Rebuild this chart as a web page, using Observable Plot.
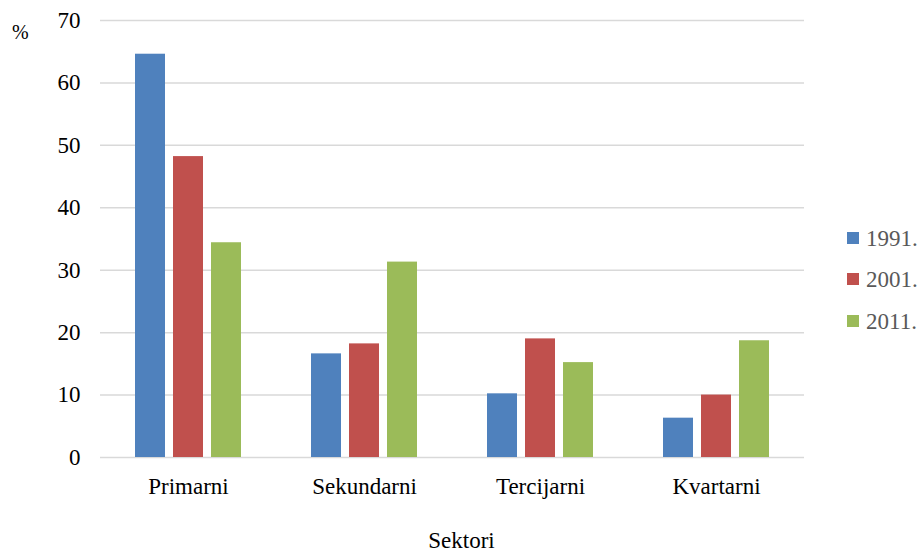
<!DOCTYPE html>
<html>
<head>
<meta charset="utf-8">
<script src="https://cdn.jsdelivr.net/npm/d3@7"></script>
<script src="https://cdn.jsdelivr.net/npm/@observablehq/plot@0.6"></script>
<style>
  body { margin: 0; background: #fff; }
  #wrap { position: relative; width: 919px; height: 552px; font-family: "Liberation Serif", "Times New Roman", serif; }
  .lbl { position: absolute; white-space: nowrap; line-height: 1; }
  .leg { position: absolute; left: 847px; display: flex; align-items: center; font-size: 23px; color: #595959; line-height: 1; }
  .sw { width: 12px; height: 12px; margin-right: 7px; }
</style>
</head>
<body>
<div id="wrap"></div>
<script>
const sectors = ["Primarni", "Sekundarni", "Tercijarni", "Kvartarni"];
const years = ["1991.", "2001.", "2011."];
const v1991 = [64.6, 16.6, 10.2, 6.3];
const v2001 = [48.2, 18.2, 19.0, 10.0];
const v2011 = [34.4, 31.3, 15.2, 18.7];
const yTicks = [0, 10, 20, 30, 40, 50, 60, 70];
const colors = ["#4F81BD", "#C0504D", "#9BBB59"];

const series = [v1991, v2001, v2011];
const data = [];
sectors.forEach((s, i) => years.forEach((y, j) => data.push({sector: s, year: y, value: series[j][i]})));

const chart = Plot.plot({
  width: 919,
  height: 552,
  marginLeft: 98,
  marginRight: 114,
  marginTop: 20,
  marginBottom: 95,
  style: {fontFamily: "'Liberation Serif', 'Times New Roman', serif", fontSize: "23px", color: "#000", background: "#fff"},
  fx: {domain: sectors, padding: 0, label: null, tickSize: 0, tickPadding: 20},
  x: {domain: years, axis: null, paddingInner: 0.218, paddingOuter: 0.875},
  y: {domain: [0, 70], ticks: yTicks, label: null, tickSize: 0, tickPadding: 20},
  color: {domain: years, range: colors},
  marks: [
    Plot.ruleY(yTicks, {stroke: "#d9d9d9", strokeWidth: 1.5}),
    Plot.barY(data, {fx: "sector", x: "year", y: "value", fill: "year"})
  ]
});

const wrap = document.getElementById("wrap");
wrap.appendChild(chart);

const pct = document.createElement("div");
pct.className = "lbl";
pct.style.cssText = "left:12px;top:22px;font-size:20px;";
pct.textContent = "%";
wrap.appendChild(pct);

const xl = document.createElement("div");
xl.className = "lbl";
xl.style.cssText = "left:0;width:923px;text-align:center;top:529px;font-size:23px;";
xl.textContent = "Sektori";
wrap.appendChild(xl);

const legTops = [238, 279, 321];
years.forEach((y, i) => {
  const d = document.createElement("div");
  d.className = "leg";
  d.style.top = (legTops[i] - 12) + "px";
  d.style.height = "24px";
  const sw = document.createElement("span");
  sw.className = "sw";
  sw.style.background = colors[i];
  const t = document.createElement("span");
  t.textContent = y;
  d.appendChild(sw);
  d.appendChild(t);
  wrap.appendChild(d);
});
</script>
</body>
</html>
